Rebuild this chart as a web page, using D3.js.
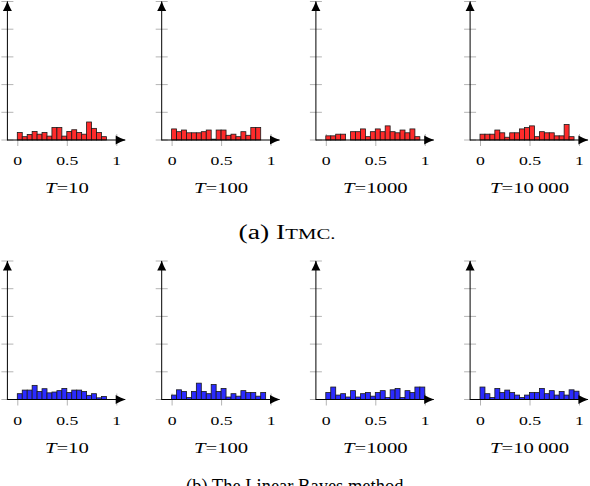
<!DOCTYPE html>
<html>
<head>
<meta charset="utf-8">
<script src="https://cdn.jsdelivr.net/npm/d3@7"></script>
<style>
  body { margin: 0; background: #fff; }
  svg { display: block; }
</style>
</head>
<body>
<div id="chart"></div>
<script>
// bin heights (20 bins of width 0.05 on [0,1]), in y-tick units
const itmcT10 = [0.27, 0.12, 0.20, 0.31, 0.21, 0.27, 0.14, 0.45, 0.45, 0.14, 0.31, 0.37, 0.27, 0.21, 0.65, 0.42, 0.27, 0.12, 0, 0];
const itmcT100 = [0.40, 0.30, 0.36, 0.26, 0.26, 0.26, 0.30, 0.36, 0.03, 0.36, 0.36, 0.17, 0.21, 0.12, 0.30, 0.17, 0.45, 0.45, 0, 0];
const itmcT1000 = [0.15, 0.15, 0.21, 0.21, 0, 0.30, 0.30, 0.40, 0.12, 0.30, 0.40, 0.30, 0.51, 0.30, 0.26, 0.36, 0.26, 0.40, 0.12, 0];
const itmcT10000 = [0.21, 0.21, 0.21, 0.36, 0.26, 0.10, 0.26, 0.26, 0.40, 0.45, 0.51, 0.12, 0.30, 0.26, 0.26, 0.15, 0.15, 0.56, 0.12, 0];

const lbT10 = [0.21, 0.34, 0.34, 0.51, 0.29, 0.39, 0.24, 0.27, 0.32, 0.40, 0.25, 0.34, 0.34, 0.29, 0.15, 0.21, 0.06, 0.11, 0, 0];
const lbT100 = [0.16, 0.35, 0.29, 0.07, 0.29, 0.59, 0.29, 0.21, 0.54, 0.29, 0.40, 0.09, 0.21, 0.12, 0.32, 0.25, 0.25, 0.12, 0.25, 0];
const lbT1000 = [0.25, 0.45, 0.16, 0.21, 0.09, 0.32, 0.09, 0.21, 0.25, 0.12, 0.25, 0.32, 0.07, 0.35, 0.40, 0.07, 0.32, 0.25, 0.45, 0.45];
const lbT10000 = [0.45, 0.21, 0.07, 0.40, 0.25, 0.34, 0.25, 0.16, 0.07, 0.16, 0.25, 0.25, 0.40, 0.21, 0.32, 0.16, 0.29, 0.16, 0.35, 0.30];

const runLabels = ['10', '100', '1000', '10\u2009000'];
const xTicks = [0, 0.5, 1];
const xTickLabels = ['0', '0.5', '1'];
const yTicks = [0, 1, 2, 3, 4, 5];
const binWidth = 0.05;

const rows = [
  { series: [itmcT10, itmcT100, itmcT1000, itmcT10000], fill: '#ff2b2b' },
  { series: [lbT10, lbT100, lbT1000, lbT10000], fill: '#2b2bff' }
];

const width = 590, height = 486;
const panelLeft = [17.3, 171.6, 325.8, 480];
const rowBase = [140, 399.5];
const unitX = 99, tickStep = 27.7;
const stretch = 1.38;

const svg = d3.select('#chart').append('svg')
  .attr('width', width)
  .attr('height', height);

// latex style arrow tip
svg.append('defs').append('marker')
  .attr('id', 'tip')
  .attr('viewBox', '-10 -5 11 10')
  .attr('refX', 0).attr('refY', 0)
  .attr('markerWidth', 11).attr('markerHeight', 10)
  .attr('markerUnits', 'userSpaceOnUse')
  .attr('orient', 'auto')
  .append('path')
  .attr('d', 'M0.5,0 C-3,-1 -6.5,-3 -9.5,-4.5 L-9.5,4.5 C-6.5,3 -3,1 0.5,0 Z')
  .attr('fill', '#000');

rows.forEach((row, r) => {
  const base = rowBase[r];
  const y = d3.scaleLinear().domain([0, 5]).range([base, base - 5 * tickStep]);

  row.series.forEach((bins, p) => {
    const x = d3.scaleLinear().domain([0, 1]).range([panelLeft[p], panelLeft[p] + unitX]);
    const g = svg.append('g');
    const axisX = x(-0.1);

    // y gray ticks
    g.selectAll('.ytick')
      .data(yTicks)
      .join('line')
      .attr('x1', axisX - 6).attr('x2', axisX + 6)
      .attr('y1', d => y(d)).attr('y2', d => y(d))
      .attr('stroke', '#b4b4b4').attr('stroke-width', 1);

    // x axis ticks + labels
    const xAxis = g.append('g')
      .attr('transform', `translate(0,${base})`)
      .call(d3.axisBottom(x).tickValues(xTicks).tickFormat((d, i) => xTickLabels[i]));
    xAxis.select('.domain').remove();
    xAxis.selectAll('.tick line')
      .attr('y1', -6).attr('y2', 6)
      .attr('stroke', '#b4b4b4');
    xAxis.selectAll('.tick text')
      .attr('y', 0).attr('dy', null)
      .attr('transform', `translate(0,25) scale(${stretch + 0.1},1)`)
      .attr('font-family', '"Liberation Serif", "DejaVu Serif", serif')
      .attr('font-size', 12)
      .attr('fill', '#000');

    // bars
    g.selectAll('.bar')
      .data(bins.map((v, i) => ({ x0: i * binWidth, v })).filter(d => d.v > 0))
      .join('rect')
      .attr('x', d => x(d.x0))
      .attr('y', d => y(d.v))
      .attr('width', x(binWidth) - x(0))
      .attr('height', d => y(0) - y(d.v))
      .attr('fill', row.fill)
      .attr('stroke', '#1a1a1a')
      .attr('stroke-width', 0.8);

    // axes with arrows
    g.append('line')
      .attr('x1', axisX).attr('x2', x(1.1) - 1)
      .attr('y1', y(0)).attr('y2', y(0))
      .attr('stroke', '#000').attr('stroke-width', 1)
      .attr('marker-end', 'url(#tip)');
    g.append('line')
      .attr('x1', axisX).attr('x2', axisX)
      .attr('y1', y(0) + 0.5).attr('y2', y(5))
      .attr('stroke', '#000').attr('stroke-width', 1)
      .attr('marker-end', 'url(#tip)');

    // T = ... label
    const lab = g.append('text')
      .attr('transform', `translate(${x(0.5)},${base + 53.3}) scale(${stretch},1)`)
      .attr('text-anchor', 'middle')
      .attr('font-family', '"Liberation Serif", "DejaVu Serif", serif')
      .attr('font-size', 15);
    lab.append('tspan').attr('font-style', 'italic').text('T');
    lab.append('tspan').text('=' + runLabels[p]);
  });
});

// sub-captions
const capA = svg.append('text')
  .attr('x', 287).attr('y', 239)
  .attr('text-anchor', 'middle')
  .attr('font-family', '"Liberation Serif", serif')
  .attr('font-size', 20)
  .attr('textLength', 97)
  .attr('lengthAdjust', 'spacingAndGlyphs');
capA.append('tspan').text('(a) I');
capA.append('tspan').attr('font-size', 15).text('TMC.');

// the second caption runs past the bottom edge, as in the original figure
svg.append('text')
  .attr('x', 297).attr('y', 493)
  .attr('text-anchor', 'middle')
  .attr('font-family', '"Liberation Serif", serif')
  .attr('font-size', 20)
  .attr('textLength', 222)
  .attr('lengthAdjust', 'spacingAndGlyphs')
  .text('(b) The Linear Bayes method.');
</script>
</body>
</html>
